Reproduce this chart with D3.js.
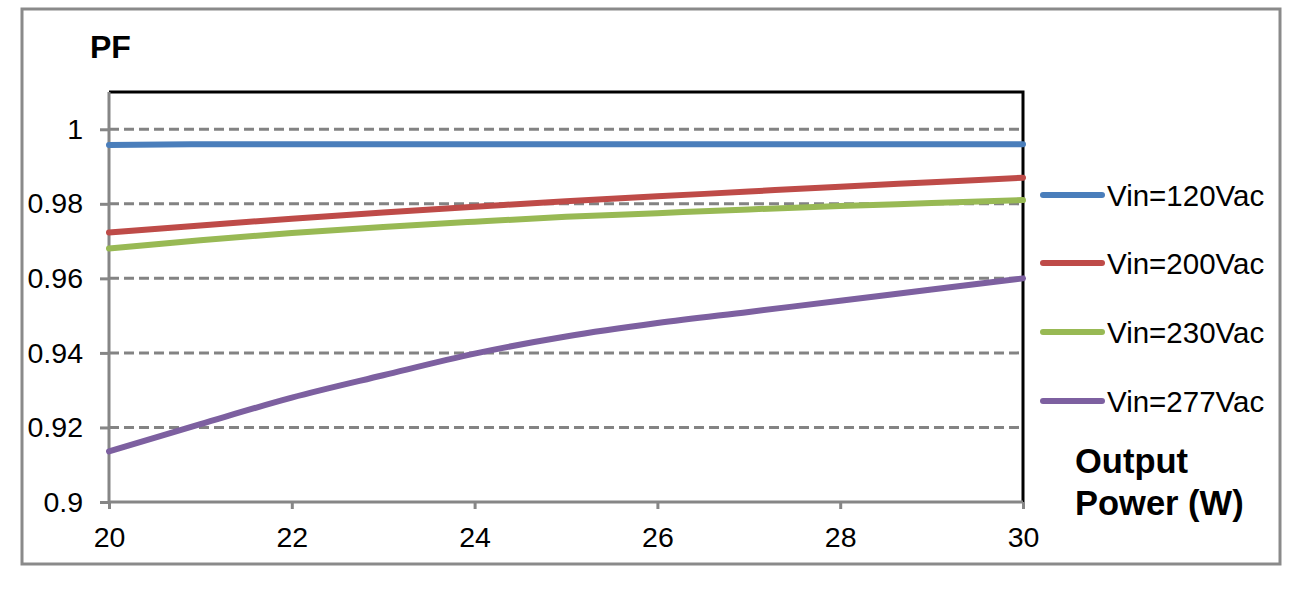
<!DOCTYPE html>
<html>
<head>
<meta charset="utf-8">
<script src="https://cdn.jsdelivr.net/npm/d3@7"></script>
<style>
  body { margin: 0; background: #fff; }
  text { font-family: "Liberation Sans", Arial, sans-serif; fill: #000; }
</style>
</head>
<body>
<div id="chart"></div>
<script>
// output power (W)
var power = [20, 21, 22, 23, 24, 25, 26, 27, 28, 29, 30];

// PF per input voltage
var pf120 = [0.9958, 0.996, 0.996, 0.996, 0.996, 0.996, 0.996, 0.996, 0.996, 0.996, 0.996];
var pf200 = [0.9723, 0.9742, 0.976, 0.9777, 0.9792, 0.9807, 0.982, 0.9833, 0.9846, 0.9858, 0.987];
var pf230 = [0.968, 0.9702, 0.9722, 0.9738, 0.9752, 0.9765, 0.9775, 0.9785, 0.9794, 0.9802, 0.981];
var pf277 = [0.9136, 0.9209, 0.928, 0.934, 0.9398, 0.9444, 0.948, 0.951, 0.954, 0.957, 0.960];

var seriesNames = ["Vin=120Vac", "Vin=200Vac", "Vin=230Vac", "Vin=277Vac"];
var seriesColors = ["#4a7ebb", "#be4b48", "#98b954", "#7d60a0"];
var yTicks = [0.9, 0.92, 0.94, 0.96, 0.98, 1];
var xTicks = [20, 22, 24, 26, 28, 30];

var series = [pf120, pf200, pf230, pf277].map(function(vals, i) {
  return {
    name: seriesNames[i],
    color: seriesColors[i],
    values: vals.map(function(v, j) { return {x: power[j], y: v}; })
  };
});

var W = 1299, H = 589;
var plot = {left: 109, right: 1023, top: 92, bottom: 502};

var svg = d3.select("#chart")
  .append("svg")
    .attr("width", W)
    .attr("height", H);

// outer frame
svg.append("rect")
  .attr("x", 22).attr("y", 9)
  .attr("width", 1258).attr("height", 555)
  .attr("fill", "#fff")
  .attr("stroke", "#8a8a8a")
  .attr("stroke-width", 3);

var x = d3.scaleLinear().domain([20, 30]).range([plot.left, plot.right]);
var y = d3.scaleLinear().domain([0.9, 1.01]).range([plot.bottom, plot.top]);

// dashed gridlines
svg.append("g")
  .selectAll("line")
  .data(yTicks.filter(function(d) { return d > 0.9; }))
  .join("line")
    .attr("x1", plot.left).attr("x2", plot.right)
    .attr("y1", function(d) { return y(d); })
    .attr("y2", function(d) { return y(d); })
    .attr("stroke", "#838383")
    .attr("stroke-width", 3)
    .attr("stroke-dasharray", "10,5");

// top and right border
svg.append("path")
  .attr("d", "M" + plot.left + "," + plot.top + "H" + plot.right + "V" + plot.bottom)
  .attr("fill", "none")
  .attr("stroke", "#000")
  .attr("stroke-width", 3);

// Y axis
var yAxis = svg.append("g")
  .attr("transform", "translate(" + plot.left + ",0)")
  .call(d3.axisLeft(y).tickValues(yTicks).tickSize(9).tickPadding(17)
    .tickFormat(function(d) { return d === 1 ? "1" : d3.format(".2~f")(d); }));

// X axis
var xAxis = svg.append("g")
  .attr("transform", "translate(0," + plot.bottom + ")")
  .call(d3.axisBottom(x).tickValues(xTicks).tickSize(7).tickPadding(18));

[yAxis, xAxis].forEach(function(ax) {
  ax.select(".domain").attr("stroke", "#868686").attr("stroke-width", 3);
  ax.selectAll(".tick line").attr("stroke", "#868686").attr("stroke-width", 3);
  ax.selectAll(".tick text")
    .attr("font-family", "Liberation Sans, Arial, sans-serif")
    .attr("font-size", 28.5)
    .attr("fill", "#000");
});
yAxis.select(".domain").attr("d", "M0," + plot.bottom + "V" + plot.top);
xAxis.select(".domain").attr("d", "M" + plot.left + ",0H" + plot.right);

// lines
var line = d3.line()
  .x(function(d) { return x(d.x); })
  .y(function(d) { return y(d.y); })
  .curve(d3.curveMonotoneX);

svg.append("g")
  .selectAll("path")
  .data(series)
  .join("path")
    .attr("fill", "none")
    .attr("stroke", function(d) { return d.color; })
    .attr("stroke-width", 6)
    .attr("stroke-linecap", "round")
    .attr("d", function(d) { return line(d.values); });

// legend
var legendY = [195, 263, 332, 401];
var legend = svg.append("g")
  .selectAll("g")
  .data(series)
  .join("g")
    .attr("transform", function(d, i) { return "translate(1040," + legendY[i] + ")"; });

legend.append("line")
  .attr("x1", 3).attr("x2", 62)
  .attr("stroke", function(d) { return d.color; })
  .attr("stroke-width", 6)
  .attr("stroke-linecap", "round");

legend.append("text")
  .attr("x", 67)
  .attr("dy", "0.36em")
  .attr("font-size", 29.5)
  .text(function(d) { return d.name; });

// axis titles
svg.append("text")
  .attr("x", 90).attr("y", 58)
  .attr("font-size", 32)
  .attr("font-weight", "bold")
  .text("PF");

svg.append("text")
  .attr("x", 1075).attr("y", 473)
  .attr("font-size", 34.5)
  .attr("font-weight", "bold")
  .text("Output");

svg.append("text")
  .attr("x", 1075).attr("y", 515)
  .attr("font-size", 34.5)
  .attr("font-weight", "bold")
  .text("Power (W)");
</script>
</body>
</html>
